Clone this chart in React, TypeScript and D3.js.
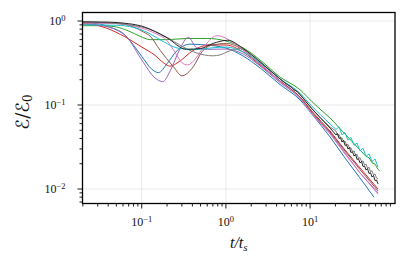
import React, { useRef, useEffect } from 'react';
import * as d3 from 'd3';

type Pt = [number, number];

// axis limits and tick labels
const xDomain: [number, number] = [0.0198, 102];
const yDomain: [number, number] = [0.00672, 1.263];
const xMajor = [0.1, 1, 10];
const xMajorExp = ['\u22121', '0', '1'];
const yMajor = [1, 0.1, 0.01];
const yMajorExp = ['0', '\u22121', '\u22122'];
const tailStart = 17.3; // noisy late-time part drawn point to point

// energy ratio E/E0 vs t/ts, one array per run
const runBlue: Pt[] = [[0.02, 0.95], [0.03, 0.93], [0.04, 0.86], [0.065, 0.66], [0.1, 0.38], [0.13, 0.27], [0.158, 0.243], [0.2, 0.31], [0.26, 0.44], [0.375, 0.53], [0.55, 0.52], [1.0, 0.477], [1.6, 0.383], [2.55, 0.276], [4.4, 0.175], [7.6, 0.115], [10.5, 0.078], [17.3, 0.0416], [26, 0.0234], [39.2, 0.0135], [57.4, 0.008]];
const runGreen: Pt[] = [[0.02, 0.88], [0.035, 0.88], [0.05, 0.85], [0.07, 0.76], [0.095, 0.66], [0.126, 0.6], [0.2, 0.6], [0.35, 0.62], [0.6, 0.62], [1.0, 0.578], [1.6, 0.48], [2.55, 0.343], [4.4, 0.215], [7.6, 0.152], [10.5, 0.11], [17.3, 0.07], [26, 0.0452], [39.2, 0.0291], [46.2, 0.0244], [50.1, 0.0236], [54.4, 0.0205], [59, 0.0198], [64.1, 0.0172], [67, 0.0164]];
const runRed: Pt[] = [[0.02, 0.93], [0.028, 0.9], [0.0385, 0.82], [0.063, 0.65], [0.1, 0.49], [0.144, 0.39], [0.18, 0.32], [0.217, 0.29], [0.28, 0.33], [0.4, 0.44], [0.65, 0.52], [1.0, 0.518], [1.6, 0.428], [2.55, 0.299], [4.4, 0.193], [7.6, 0.125], [10.5, 0.0846], [17.3, 0.049], [26, 0.0291], [39.2, 0.0178], [64.1, 0.01]];
const runPurple: Pt[] = [[0.02, 0.92], [0.03, 0.9], [0.04, 0.85], [0.0635, 0.68], [0.105, 0.32], [0.14, 0.215], [0.178, 0.19], [0.22, 0.26], [0.28, 0.45], [0.358, 0.64], [0.45, 0.48], [0.6, 0.46], [1.0, 0.464], [1.6, 0.405], [2.55, 0.291], [4.4, 0.185], [7.6, 0.12], [10.5, 0.08], [17.3, 0.0464], [26, 0.0268], [39.2, 0.0155], [64.1, 0.009]];
const runBrown: Pt[] = [[0.02, 0.96], [0.05, 0.94], [0.08, 0.85], [0.105, 0.74], [0.126, 0.66], [0.165, 0.45], [0.238, 0.286], [0.3, 0.223], [0.41, 0.286], [0.52, 0.43], [0.7, 0.52], [1.02, 0.54], [1.6, 0.452], [2.55, 0.308], [4.4, 0.193], [7.6, 0.124], [10.5, 0.0823], [17.3, 0.0477], [26, 0.0283], [39.2, 0.017], [64.1, 0.0095]];
const runPink: Pt[] = [[0.02, 0.95], [0.05, 0.93], [0.1, 0.82], [0.15, 0.7], [0.198, 0.59], [0.25, 0.42], [0.3, 0.32], [0.35, 0.3], [0.42, 0.34], [0.52, 0.46], [0.6, 0.55], [0.78, 0.67], [0.95, 0.64], [1.3, 0.53], [1.6, 0.452], [2.55, 0.308], [4.4, 0.19], [7.6, 0.12], [10.5, 0.079], [17.3, 0.0452], [26, 0.0261], [39.2, 0.0155], [64.1, 0.0087]];
const runGray: Pt[] = [[0.02, 0.97], [0.04, 0.95], [0.07, 0.9], [0.1, 0.85], [0.2, 0.64], [0.3, 0.5], [0.41, 0.43], [0.55, 0.395], [0.7, 0.385], [0.85, 0.395], [1.1, 0.44], [1.47, 0.47], [2.0, 0.4], [2.55, 0.33], [4.4, 0.204], [7.6, 0.133], [10.5, 0.0905], [17.3, 0.0547], [20.3, 0.0489], [21.2, 0.0437], [22.1, 0.0446], [23, 0.0399], [23.9, 0.0408], [25, 0.0364], [26, 0.0372], [27.1, 0.0333], [28.2, 0.034], [29.4, 0.0304], [30.6, 0.031], [31.9, 0.0277], [33.3, 0.0284], [34.7, 0.0253], [36.1, 0.0259], [37.6, 0.0231], [39.2, 0.0236], [40.9, 0.0211], [42.6, 0.0216], [44.4, 0.0193], [46.2, 0.0198], [48.1, 0.0177], [50.1, 0.0181], [52.2, 0.0161], [54.4, 0.0165], [56.7, 0.0147], [59, 0.0151], [61.5, 0.0135], [64.1, 0.0132]];
const runCyan: Pt[] = [[0.02, 0.9], [0.05, 0.89], [0.08, 0.84], [0.12, 0.72], [0.18, 0.57], [0.285, 0.47], [0.45, 0.46], [0.7, 0.48], [1.0, 0.49], [1.6, 0.428], [2.55, 0.316], [4.4, 0.205], [7.6, 0.138], [10.5, 0.0967], [17.3, 0.0594], [20.3, 0.0512], [22.1, 0.055], [23.9, 0.0442], [26, 0.047], [28.2, 0.0382], [30.6, 0.041], [33.3, 0.033], [36.1, 0.0352], [39.2, 0.0284], [42.6, 0.0305], [46.2, 0.0245], [50.1, 0.0262], [54.4, 0.0212], [59, 0.0228], [64.1, 0.0183]];
const runBlack: Pt[] = [[0.02, 0.98], [0.04, 0.97], [0.07, 0.93], [0.1, 0.87], [0.2, 0.63], [0.34, 0.46], [0.5, 0.47], [0.7, 0.54], [1.05, 0.59], [1.6, 0.47], [2.55, 0.325], [4.4, 0.204], [5.5, 0.172], [6.0, 0.163], [6.4, 0.152], [7.0, 0.146], [7.6, 0.133], [10.5, 0.0905], [17.3, 0.0532], [20.3, 0.044], [21.2, 0.0458], [22.1, 0.0399], [23, 0.0408], [23.9, 0.0363], [25, 0.0378], [26, 0.033], [27.1, 0.0336], [28.2, 0.0299], [29.4, 0.0312], [30.6, 0.0272], [31.9, 0.0277], [33.3, 0.0247], [34.7, 0.0258], [36.1, 0.0225], [37.6, 0.0229], [39.2, 0.0204], [40.9, 0.0213], [42.6, 0.0185], [44.4, 0.0188], [46.2, 0.0168], [48.1, 0.0175], [50.1, 0.0153], [52.2, 0.0156], [54.4, 0.0139], [56.7, 0.0145], [59, 0.0126], [61.5, 0.0128], [64.1, 0.0115]];

const runs = [runBlue, runGreen, runRed, runPurple, runBrown, runPink, runGray, runCyan, runBlack];
const runColors = ['#1f77b4', '#2ca02c', '#d62728', '#9467bd', '#8c564b', '#e377c2', '#7f7f7f', '#17becf', '#262626'];

const W = 415;
const H = 257;
const margin = { top: 12.5, right: 20, bottom: 53.5, left: 82.5 };
const FONT = 'Liberation Serif, Times New Roman, Times, serif';

export default function App() {
  const ref = useRef<SVGSVGElement>(null);

  useEffect(() => {
    if (!ref.current) return;
    drawChart(ref.current);
  }, []);

  return (
    <svg
      ref={ref}
      width={W}
      height={H}
      style={{ position: 'absolute', left: 0, top: 0, background: '#fff' }}
    />
  );
}

function minorTicks(domain: [number, number]) {
  const out: number[] = [];
  for (let e = -3; e <= 2; e++) {
    for (let k = 2; k <= 9; k++) {
      const v = k * Math.pow(10, e);
      if (v >= domain[0] && v <= domain[1]) out.push(v);
    }
  }
  return out;
}

function drawChart(svgEl: SVGSVGElement) {
  const svg = d3.select(svgEl);
  svg.selectAll('*').remove();

  const x = d3.scaleLog().domain(xDomain).range([margin.left, W - margin.right]);
  const y = d3.scaleLog().domain(yDomain).range([H - margin.bottom, margin.top]);
  const [x0, x1] = x.range();
  const [y0, y1] = y.range();

  svg.append('defs').append('clipPath').attr('id', 'plot-clip')
    .append('rect').attr('x', x0).attr('y', y1).attr('width', x1 - x0).attr('height', y0 - y1);

  // grid
  const grid = svg.append('g').attr('stroke', '#e6e6e6').attr('stroke-width', 0.9);
  xMajor.forEach((v) => {
    grid.append('line').attr('x1', x(v)).attr('x2', x(v)).attr('y1', y1).attr('y2', y0);
  });
  yMajor.forEach((v) => {
    grid.append('line').attr('x1', x0).attr('x2', x1).attr('y1', y(v)).attr('y2', y(v));
  });

  // lines: smooth early part, point-to-point noisy tail
  const smooth = d3.line<Pt>()
    .x((d) => x(d[0]))
    .y((d) => y(d[1]))
    .curve(d3.curveMonotoneX);
  const straight = d3.line<Pt>()
    .x((d) => x(d[0]))
    .y((d) => y(d[1]));

  const lines = svg.append('g').attr('clip-path', 'url(#plot-clip)');
  runs.forEach((r, i) => {
    const head = r.filter((d) => d[0] <= tailStart);
    const tail = r.filter((d) => d[0] >= tailStart);
    lines.append('path')
      .attr('d', smooth(head)! + straight(tail)!.replace(/^M/, 'L'))
      .attr('fill', 'none')
      .attr('stroke', runColors[i])
      .attr('stroke-width', 1)
      .attr('stroke-linejoin', 'round');
  });

  // frame
  svg.append('rect')
    .attr('x', x0).attr('y', y1)
    .attr('width', x1 - x0).attr('height', y0 - y1)
    .attr('fill', 'none').attr('stroke', '#000').attr('stroke-width', 1.3);

  // ticks
  const ticks = svg.append('g').attr('stroke', '#000').attr('stroke-width', 0.9);
  xMajor.forEach((v) => {
    ticks.append('line').attr('x1', x(v)).attr('x2', x(v)).attr('y1', y0).attr('y2', y0 + 5);
  });
  minorTicks(xDomain).forEach((v) => {
    ticks.append('line').attr('x1', x(v)).attr('x2', x(v)).attr('y1', y0).attr('y2', y0 + 3);
  });
  yMajor.forEach((v) => {
    ticks.append('line').attr('x1', x0 - 5).attr('x2', x0).attr('y1', y(v)).attr('y2', y(v));
  });
  minorTicks(yDomain).forEach((v) => {
    ticks.append('line').attr('x1', x0 - 3).attr('x2', x0).attr('y1', y(v)).attr('y2', y(v));
  });

  // tick labels
  xMajor.forEach((v, i) => {
    const t = svg.append('text')
      .attr('x', x(v)).attr('y', y0 + 22.5)
      .attr('text-anchor', 'middle')
      .style('font-family', FONT).style('font-size', '12px').attr('fill', '#111');
    t.append('tspan').text('10');
    t.append('tspan').attr('dy', -4.5).style('font-size', '8.5px').text(xMajorExp[i]);
  });
  yMajor.forEach((v, i) => {
    const t = svg.append('text')
      .attr('x', x0 - 17).attr('y', y(v) + 4)
      .attr('text-anchor', 'end')
      .style('font-family', FONT).style('font-size', '12px').attr('fill', '#111');
    t.append('tspan').text('10');
    t.append('tspan').attr('dy', -4.5).style('font-size', '8.5px').text(yMajorExp[i]);
  });

  // axis labels
  const xl = svg.append('text')
    .attr('x', (x0 + x1) / 2).attr('y', 248)
    .attr('text-anchor', 'middle')
    .style('font-family', FONT).style('font-size', '16px').style('font-style', 'italic').attr('fill', '#111');
  xl.append('tspan').text('t/t');
  xl.append('tspan').attr('dy', 3).style('font-size', '11px').text('s');

  const yl = svg.append('text')
    .attr('transform', `translate(29,${(y0 + y1) / 2 + 4}) rotate(-90)`)
    .attr('text-anchor', 'middle')
    .style('font-family', 'DejaVu Serif, DejaVu Sans, serif').style('font-size', '18px').attr('fill', '#111');
  yl.append('tspan').text('\u2130/\u2130');
  yl.append('tspan').attr('dy', 3).style('font-size', '12px').text('0');
}
